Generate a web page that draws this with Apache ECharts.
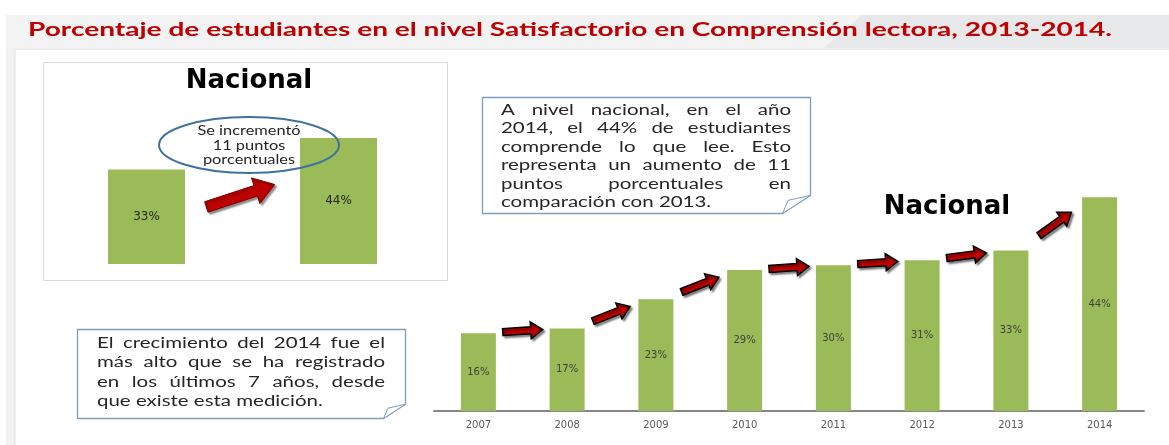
<!DOCTYPE html>
<html>
<head>
<meta charset="UTF-8">
<title>Comprensión lectora 2013-2014</title>
<script src="https://cdn.jsdelivr.net/npm/echarts@6/dist/echarts.min.js"></script>
<style>
  html, body { margin: 0; padding: 0; background: #fff; }
  #main { width: 1169px; height: 445px; }
</style>
</head>
<body>
<div id="main"></div>
<script>
// datos
var titleText = 'Porcentaje de estudiantes en el nivel Satisfactorio en Comprensión lectora, 2013-2014.';
var smallYears = ['2013', '2014'];
var smallValues = [33, 44];
var bigYears = ['2007', '2008', '2009', '2010', '2011', '2012', '2013', '2014'];
var bigValues = [16, 17, 23, 29, 30, 31, 33, 44];
var ellipseLines = ['Se incrementó', '11 puntos', 'porcentuales'];
var box1Lines = [
  'A nivel nacional, en el año',
  '2014, el 44% de estudiantes',
  'comprende lo que lee. Esto',
  'representa un aumento de 11',
  'puntos porcentuales en',
  'comparación con 2013.'
];
var box2Lines = [
  'El crecimiento del 2014 fue el',
  'más alto que se ha registrado',
  'en los últimos 7 años, desde',
  'que existe esta medición.'
];

var GREEN = '#9bbb59';
var BOX = '#7f9cc2';
var TXT = '#262626';

var measureCtx = document.createElement('canvas').getContext('2d');
function textWidth(s, font) {
  measureCtx.font = font;
  return measureCtx.measureText(s).width;
}

// la imagen original está estirada a lo ancho, por eso scaleX
function textEl(s, x, y, font, color, align, sx) {
  return {
    type: 'text', x: x, y: y, z: 20, silent: true, scaleX: sx || 1,
    style: {
      text: s, font: font, fill: color,
      align: align || 'left', textAlign: align || 'left',
      verticalAlign: 'middle', textVerticalAlign: 'middle'
    }
  };
}

// texto justificado como en el cuadro original
function justifiedText(lines, x0, x1, y0, lineH, font, color, sx) {
  var out = [];
  lines.forEach(function (line, k) {
    var y = y0 + k * lineH;
    var words = line.split(' ');
    var total = 0;
    words.forEach(function (w) { total += textWidth(w, font); });
    var full = textWidth(line, font);
    var s = Math.min(sx, (x1 - x0) / full);
    if (k === lines.length - 1 || words.length === 1) {
      out.push(textEl(line, x0, y, font, color, 'left', s));
      return;
    }
    var gap = (x1 - x0 - total * s) / (words.length - 1);
    var x = x0;
    words.forEach(function (w) {
      out.push(textEl(w, x, y, font, color, 'left', s));
      x += textWidth(w, font) * s + gap;
    });
  });
  return out;
}

// cuadro con esquina doblada
function noteBox(x0, y0, x1, y1, fold) {
  return [
    {
      type: 'polygon', z: 5, silent: true,
      shape: { points: [[x0, y0], [x1, y0], [x1, y1 - fold * 0.65], [x1 - fold, y1], [x0, y1]] },
      style: { fill: '#fff', stroke: BOX, lineWidth: 1.3 }
    },
    {
      type: 'polygon', z: 6, silent: true,
      shape: { points: [[x1, y1 - fold * 0.65], [x1 - fold * 0.8, y1 - fold * 0.47], [x1 - fold, y1]] },
      style: { fill: '#fff', stroke: BOX, lineWidth: 1 }
    }
  ];
}

// flecha roja entre dos barras
function arrowItem(cfg) {
  return function (params, api) {
    var i = api.value(0);
    var a = api.coord([i, api.value(1)]);
    var b = api.coord([i + 1, api.value(2)]);
    var cx = (a[0] + b[0]) / 2 + cfg.dx;
    var cy = (a[1] + b[1]) / 2 + cfg.dy;
    var dx = b[0] - a[0], dy = (b[1] - a[1]) * cfg.tilt;
    var len = Math.sqrt(dx * dx + dy * dy);
    var ux = dx / len, uy = dy / len, nx = -uy, ny = ux;
    var L = cfg.len, s = cfg.shaft / 2, h = cfg.head / 2, hl = cfg.headLen;
    var tx = cx - ux * L / 2, ty = cy - uy * L / 2;
    var px = cx + ux * L / 2, py = cy + uy * L / 2;
    var bx = px - ux * hl, by = py - uy * hl;
    var pts = [
      [tx + nx * s, ty + ny * s], [bx + nx * s, by + ny * s], [bx + nx * h, by + ny * h],
      [px, py],
      [bx - nx * h, by - ny * h], [bx - nx * s, by - ny * s], [tx - nx * s, ty - ny * s]
    ];
    return {
      type: 'polygon',
      shape: { points: pts },
      style: {
        fill: '#c00000', stroke: cfg.stroke, lineWidth: cfg.lw,
        shadowBlur: 2, shadowOffsetX: 2, shadowOffsetY: 2, shadowColor: 'rgba(0,0,0,0.45)'
      }
    };
  };
}

var bigPairs = bigValues.slice(0, -1).map(function (v, i) { return [i, v, bigValues[i + 1]]; });
var smallPairs = [[0, smallValues[0], smallValues[1]]];

var titleFont = 'bold 19px Lato';
var titleScale = 1084 / textWidth(titleText, titleFont);

var graphics = [
  // banda del título
  { type: 'rect', z: 0, silent: true, shape: { x: 6, y: 15, width: 1163, height: 33 }, style: { fill: '#f3f3f4' } },
  { type: 'polygon', z: 0, silent: true, shape: { points: [[862, 15], [1169, 15], [1169, 48], [824, 48]] }, style: { fill: '#e7e8ea' } },
  { type: 'rect', z: 0, silent: true, shape: { x: 6, y: 48, width: 9, height: 397 }, style: { fill: '#f2f2f2' } },
  { type: 'polyline', z: 1, silent: true, shape: { points: [[15, 445], [15, 49], [1169, 49]] }, style: { stroke: '#e0e0e0', lineWidth: 1 } },
  textEl(titleText, 28, 30, titleFont, '#c00000', 'left', titleScale),
  // marco del gráfico pequeño
  { type: 'rect', z: 1, silent: true, shape: { x: 43.5, y: 62.5, width: 404, height: 218 }, style: { fill: '#fff', stroke: '#d9d9d9', lineWidth: 1 } },
  textEl('Nacional', 249, 81, 'bold 26px "DejaVu Sans"', '#000', 'center'),
  textEl('Nacional', 947, 207, 'bold 26px "DejaVu Sans"', '#000', 'center'),
  // elipse
  { type: 'ellipse', z: 15, silent: true, shape: { cx: 249, cy: 145, rx: 90, ry: 28 }, style: { fill: 'transparent', stroke: '#41719c', lineWidth: 2 } }
];
ellipseLines.forEach(function (t, k) {
  graphics.push(textEl(t, 249, 131 + k * 14.5, '13px Lato', TXT, 'center', 1.26));
});
graphics = graphics
  .concat(noteBox(482.5, 97.5, 810.5, 213.5, 28))
  .concat(justifiedText(box1Lines, 501, 791, 110, 18.4, '15.5px Lato', TXT, 1.32))
  .concat(noteBox(77.5, 329.5, 405.5, 418.5, 22))
  .concat(justifiedText(box2Lines, 97, 385, 343, 19.3, '15.5px Lato', TXT, 1.32));

var myChart = echarts.init(document.getElementById('main'));

var option = {
  animation: false,
  graphic: graphics,
  grid: [
    { left: 50.5, top: 120.8, width: 384, height: 143.2 },
    { left: 434, top: 192.3, width: 710, height: 218.7 }
  ],
  xAxis: [
    {
      gridIndex: 0, type: 'category', data: smallYears,
      axisLine: { show: false }, axisTick: { show: false },
      axisLabel: { margin: 8, fontSize: 10, fontFamily: 'DejaVu Sans', color: '#595959' }
    },
    {
      gridIndex: 1, type: 'category', data: bigYears,
      axisLine: { lineStyle: { color: '#868686', width: 2 } }, axisTick: { show: false },
      axisLabel: { margin: 9, fontSize: 10, fontFamily: 'DejaVu Sans', color: '#595959' }
    }
  ],
  yAxis: [
    { gridIndex: 0, type: 'value', min: 0, max: 50, show: false, splitLine: { show: false } },
    { gridIndex: 1, type: 'value', min: 0, max: 45, show: false, splitLine: { show: false } }
  ],
  series: [
    {
      type: 'bar', xAxisIndex: 0, yAxisIndex: 0, data: smallValues, barWidth: 77,
      itemStyle: { color: GREEN },
      label: { show: true, position: 'inside', formatter: '{c}%', fontSize: 12, fontFamily: 'DejaVu Sans', color: TXT }
    },
    {
      type: 'bar', xAxisIndex: 1, yAxisIndex: 1, data: bigValues, barWidth: 35,
      itemStyle: { color: GREEN },
      label: { show: true, position: 'inside', formatter: '{c}%', fontSize: 10, fontFamily: 'DejaVu Sans', color: '#404040' }
    },
    {
      type: 'custom', xAxisIndex: 0, yAxisIndex: 0, data: smallPairs, z: 5, silent: true, clip: false,
      renderItem: arrowItem({ dx: -2, dy: 42, tilt: 2, len: 72, shaft: 11, head: 27, headLen: 20, stroke: '#7a0000', lw: 1 })
    },
    {
      type: 'custom', xAxisIndex: 1, yAxisIndex: 1, data: bigPairs, z: 5, silent: true, clip: false,
      renderItem: arrowItem({ dx: 0, dy: 0, tilt: 1.2, len: 40, shaft: 7, head: 17, headLen: 12, stroke: '#000', lw: 1.5 })
    }
  ]
};
myChart.setOption(option, true);
</script>
</body>
</html>
